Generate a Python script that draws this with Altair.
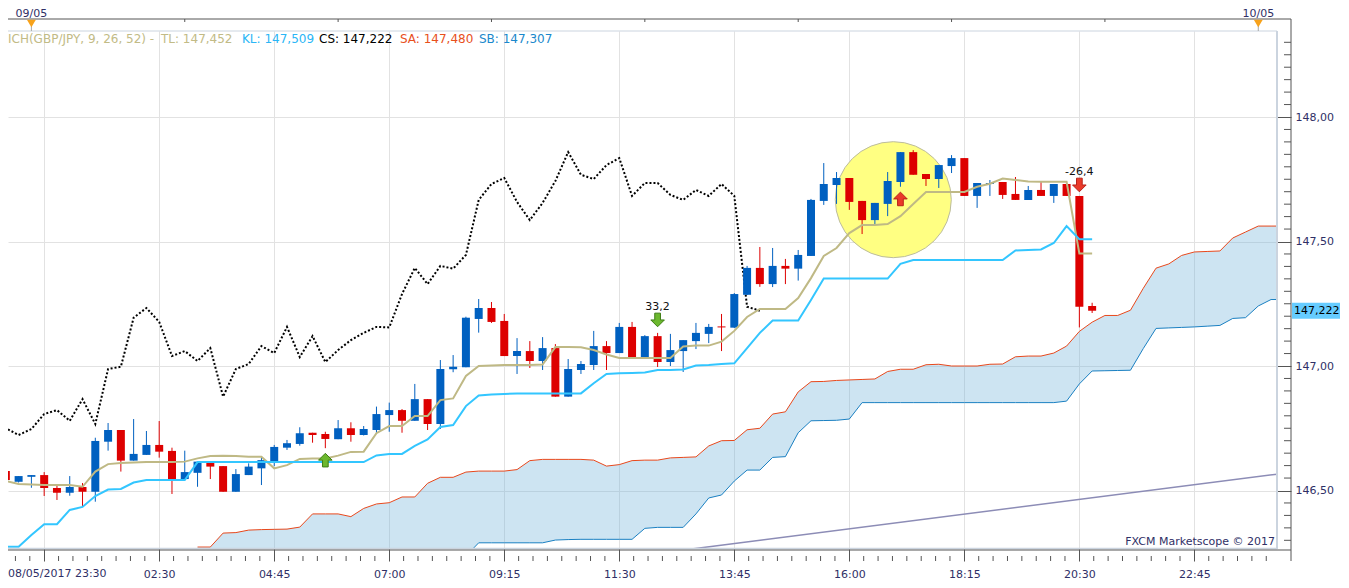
import altair as alt
import pandas as pd

# ---------------- data (15-minute bars, index 0 = 09/05 00:00) ----------------
bar_index = list(range(-2, 84))

open_ = [146.578, 146.535, 146.555, 146.562, 146.510, 146.491, 146.514, 146.495, 146.696, 146.743,
         146.620, 146.643, 146.683, 146.659, 146.546, 146.571, 146.612, 146.598, 146.495, 146.562,
         146.589, 146.618, 146.672, 146.687, 146.732, 146.727, 146.706, 146.750, 146.723, 146.743,
         146.803, 146.823, 146.780, 146.867, 146.767, 146.987, 146.995, 147.189, 147.233, 147.181,
         147.040, 147.060, 147.020, 147.072, 146.877, 146.984, 147.004, 147.080, 147.052, 147.157,
         147.036, 147.120, 147.016, 147.060, 147.100, 147.129, 147.159, 147.154, 147.286, 147.394,
         147.329, 147.402, 147.391, 147.442, 147.663, 147.727, 147.755, 147.663, 147.586, 147.651,
         147.739, 147.859, 147.771, 147.751, 147.803, 147.835, 147.683, 147.731, 147.739, 147.691,
         147.667, 147.707, 147.683, 147.731, 147.683, 147.241]
high = [146.578, 146.558, 146.562, 146.574, 146.522, 146.558, 146.530, 146.712, 146.771, 146.743,
        146.787, 146.739, 146.779, 146.672, 146.660, 146.616, 146.612, 146.598, 146.586, 146.609,
        146.636, 146.683, 146.703, 146.754, 146.732, 146.736, 146.783, 146.774, 146.759, 146.837,
        146.853, 146.827, 146.928, 146.867, 147.024, 147.044, 147.198, 147.269, 147.257, 147.209,
        147.112, 147.100, 147.116, 147.088, 147.028, 147.020, 147.141, 147.100, 147.173, 147.177,
        147.124, 147.133, 147.129, 147.104, 147.173, 147.169, 147.209, 147.293, 147.402, 147.478,
        147.474, 147.430, 147.466, 147.671, 147.815, 147.779, 147.755, 147.663, 147.655, 147.779,
        147.859, 147.867, 147.771, 147.807, 147.847, 147.835, 147.735, 147.747, 147.739, 147.759,
        147.723, 147.739, 147.731, 147.731, 147.683, 147.254]
low = [146.462, 146.532, 146.511, 146.478, 146.462, 146.479, 146.438, 146.455, 146.660, 146.576,
       146.620, 146.643, 146.632, 146.486, 146.546, 146.515, 146.546, 146.495, 146.495, 146.562,
       146.522, 146.598, 146.663, 146.680, 146.692, 146.670, 146.706, 146.696, 146.721, 146.730,
       146.736, 146.732, 146.780, 146.743, 146.747, 146.975, 146.995, 147.134, 147.173, 147.040,
       146.968, 146.992, 146.984, 146.877, 146.877, 146.968, 146.984, 146.984, 147.052, 147.032,
       147.032, 146.996, 147.000, 146.976, 147.068, 147.092, 147.060, 147.153, 147.285, 147.318,
       147.317, 147.329, 147.343, 147.442, 147.647, 147.651, 147.627, 147.530, 147.570, 147.602,
       147.720, 147.768, 147.723, 147.715, 147.775, 147.683, 147.635, 147.683, 147.671, 147.667,
       147.667, 147.683, 147.655, 147.683, 147.155, 147.213]
close = [146.542, 146.558, 146.562, 146.510, 146.491, 146.514, 146.495, 146.699, 146.743, 146.620,
         146.647, 146.683, 146.656, 146.546, 146.574, 146.616, 146.596, 146.495, 146.566, 146.596,
         146.622, 146.675, 146.690, 146.730, 146.723, 146.707, 146.750, 146.723, 146.747, 146.807,
         146.823, 146.780, 146.867, 146.767, 146.988, 146.997, 147.194, 147.233, 147.177, 147.040,
         147.060, 147.020, 147.072, 146.877, 146.988, 147.008, 147.080, 147.052, 147.157, 147.036,
         147.120, 147.016, 147.064, 147.104, 147.133, 147.157, 147.155, 147.289, 147.394, 147.329,
         147.402, 147.391, 147.446, 147.667, 147.731, 147.755, 147.659, 147.586, 147.655, 147.743,
         147.859, 147.768, 147.751, 147.807, 147.835, 147.683, 147.735, 147.735, 147.687, 147.667,
         147.707, 147.683, 147.731, 147.683, 147.238, 147.222]

tenkan = [146.538, 146.526, 146.524, 146.522, 146.522, 146.522, 146.515, 146.576, 146.606, 146.610,
          146.612, 146.614, 146.614, 146.614, 146.616, 146.629, 146.639, 146.640, 146.639, 146.636,
          146.636, 146.589, 146.602, 146.627, 146.629, 146.629, 146.640, 146.655, 146.656, 146.730,
          146.759, 146.759, 146.799, 146.799, 146.863, 146.870, 146.960, 147.000, 147.002, 147.004,
          147.004, 147.004, 147.006, 147.076, 147.076, 147.075, 147.064, 147.046, 147.032, 147.032,
          147.032, 147.032, 147.032, 147.078, 147.082, 147.082, 147.098, 147.141, 147.197, 147.229,
          147.229, 147.229, 147.273, 147.353, 147.442, 147.474, 147.534, 147.566, 147.566, 147.570,
          147.602, 147.651, 147.699, 147.699, 147.699, 147.699, 147.720, 147.732, 147.753, 147.747,
          147.741, 147.740, 147.740, 147.740, 147.452, 147.452]
kijun = [146.274, 146.274, 146.321, 146.365, 146.365, 146.422, 146.434, 146.478, 146.504, 146.506,
         146.532, 146.542, 146.542, 146.542, 146.542, 146.614, 146.614, 146.614, 146.614, 146.614,
         146.614, 146.614, 146.614, 146.614, 146.614, 146.614, 146.614, 146.614, 146.614, 146.641,
         146.647, 146.647, 146.679, 146.705, 146.755, 146.763, 146.839, 146.882, 146.886, 146.888,
         146.890, 146.890, 146.890, 146.890, 146.890, 146.890, 146.931, 146.968, 146.971, 146.972,
         146.974, 146.984, 146.984, 146.986, 147.002, 147.004, 147.008, 147.011, 147.072, 147.133,
         147.183, 147.183, 147.183, 147.265, 147.351, 147.351, 147.351, 147.351, 147.351, 147.351,
         147.410, 147.426, 147.426, 147.426, 147.426, 147.426, 147.426, 147.426, 147.426, 147.464,
         147.466, 147.468, 147.494, 147.562, 147.509, 147.509]

cloud_index = list(range(13, 99))
senkou_a = [146.273, 146.273, 146.329, 146.331, 146.341, 146.343, 146.344, 146.345, 146.353, 146.406,
            146.406, 146.406, 146.395, 146.428, 146.446, 146.451, 146.474, 146.474, 146.529, 146.553,
            146.553, 146.574, 146.578, 146.578, 146.578, 146.584, 146.620, 146.625, 146.625, 146.625,
            146.625, 146.622, 146.598, 146.604, 146.620, 146.622, 146.622, 146.631, 146.633, 146.635,
            146.679, 146.700, 146.701, 146.744, 146.750, 146.807, 146.816, 146.896, 146.937, 146.938,
            146.942, 146.944, 146.946, 146.948, 146.978, 146.987, 146.987, 147.005, 147.007, 147.000,
            147.000, 147.000, 147.007, 147.008, 147.037, 147.040, 147.040, 147.052, 147.080, 147.139,
            147.176, 147.203, 147.203, 147.224, 147.312, 147.393, 147.410, 147.444, 147.458, 147.460,
            147.462, 147.514, 147.538, 147.562, 147.562, 147.562]
senkou_b = [146.200, 146.200, 146.200, 146.200, 146.200, 146.200, 146.200, 146.200, 146.200, 146.200,
            146.200, 146.200, 146.200, 146.200, 146.200, 146.200, 146.200, 146.200, 146.200, 146.200,
            146.200, 146.237, 146.290, 146.290, 146.290, 146.290, 146.290, 146.290, 146.301, 146.303,
            146.304, 146.304, 146.304, 146.304, 146.304, 146.348, 146.352, 146.352, 146.352, 146.406,
            146.470, 146.482, 146.538, 146.582, 146.582, 146.633, 146.636, 146.732, 146.780, 146.781,
            146.782, 146.787, 146.853, 146.853, 146.853, 146.853, 146.853, 146.853, 146.853, 146.853,
            146.853, 146.853, 146.853, 146.853, 146.853, 146.853, 146.853, 146.853, 146.859, 146.928,
            146.980, 146.981, 146.982, 146.983, 147.070, 147.151, 147.153, 147.155, 147.157, 147.160,
            147.163, 147.191, 147.194, 147.241, 147.267, 147.267]

trend_i = [51.5, 97.5]
trend_p = [146.264, 146.566]

highlight_i = [67.44]
highlight_p = [147.668]

sig_i = [23, 49, 68, 82]
sig_p = [146.622, 147.185, 147.671, 147.727]
sig_dir = ["up", "down", "up", "down"]
sig_kind = ["buy", "buy", "sell", "sell"]
sig_text = ["", "33,2", "", "-26,4"]

major_x = [1, 10, 19, 28, 37, 46, 55, 64, 73, 82, 91]
time_labels = ["", "02:30", "04:45", "07:00", "09:15", "11:30", "13:45", "16:00", "18:15", "20:30", "22:45"]
first_label = "08/05/2017 23:30"
major_y = [146.5, 147.0, 147.5, 148.0]
top_ticks = [12, 24, 36, 48, 60, 72, 84]
day_i = [0, 96]
day_label = ["09/05", "10/05"]

# ---------------- frames ----------------
candles = pd.DataFrame({"i": bar_index, "open": open_, "high": high, "low": low, "close": close})
candles["dir"] = ["up" if c >= o else "down" for o, c in zip(open_, close)]
ind = pd.DataFrame({"i": bar_index, "tenkan": tenkan, "kijun": kijun})
chikou = pd.DataFrame({"i": [b - 26 for b in bar_index], "cs": close})
cloud = pd.DataFrame({"i": cloud_index, "sa": senkou_a, "sb": senkou_b})
trend = pd.DataFrame({"i": trend_i, "p": trend_p})
hl = pd.DataFrame({"i": highlight_i, "p": highlight_p})
sig = pd.DataFrame({"i": sig_i, "p": sig_p, "dir": sig_dir, "kind": sig_kind, "label": sig_text})
minor_x = pd.DataFrame({"i": [1 + k * 1.125 for k in range(-2, 86) if k % 8 != 0]})
minor_y = pd.DataFrame({"p": [round(146.30 + 0.05 * k, 2) for k in range(0, 41) if k % 10 != 4]})
toptk = pd.DataFrame({"i": top_ticks})
days = pd.DataFrame({"i": day_i, "label": day_label})
last = pd.DataFrame({"p": [close[-1]], "label": [f"{close[-1]:.3f}".replace(".", ",")]})
one = pd.DataFrame({"a": [0]})

W, H = 1269, 518
xs = alt.Scale(domain=[-1.831, 97.465], nice=False, zero=False)
ys = alt.Scale(domain=[146.2651, 148.3454], nice=False, zero=False)
LBL = "#2f2f66"
FONT = "DejaVu Sans"

label_expr_x = ("[" + ",".join(f"'{t}'" for t in time_labels) + "]"
                + f"[indexof({major_x}, datum.value)]")

x_axis = alt.Axis(values=major_x, labelExpr=label_expr_x, grid=True, gridColor="#e2e2e2",
                  domain=False, tickColor="#555555", tickSize=12, labelPadding=7,
                  labelColor=LBL, labelFont=FONT, labelFontSize=11, title=None,
                  labelOverlap=False, labelBound=False, labelFlush=False)
y_axis = alt.Axis(orient="right", values=major_y,
                  labelExpr="replace(format(datum.value, '.2f'), '.', ',')",
                  grid=True, gridColor="#e2e2e2", domain=False, tickColor="#555555",
                  tickSize=14, labelPadding=4, labelColor=LBL, labelFont=FONT,
                  labelFontSize=11, title=None, labelOverlap=False)


def X(f="i"):
    return alt.X(f"{f}:Q", scale=xs, axis=x_axis)


def Y(f):
    return alt.Y(f"{f}:Q", scale=ys, axis=y_axis)


UP = "M0,-1L1,0L0.42,0L0.42,1L-0.42,1L-0.42,0L-1,0Z"
DOWN = "M0,1L1,0L0.42,0L0.42,-1L-0.42,-1L-0.42,0L-1,0Z"

layers = []

# cloud
layers.append(alt.Chart(cloud).mark_area(clip=True, color="#70b2da", opacity=0.35).encode(
    x=X(), y=Y("sa"), y2=alt.Y2("sb:Q")))
layers.append(alt.Chart(cloud).mark_line(clip=True, color="#e8481c", strokeWidth=1).encode(
    x=X(), y=Y("sa")))
layers.append(alt.Chart(cloud).mark_line(clip=True, color="#1a80c2", strokeWidth=1).encode(
    x=X(), y=Y("sb")))
# trend line
layers.append(alt.Chart(trend).mark_line(clip=True, color="#8c8cb6", strokeWidth=1.5).encode(
    x=X(), y=Y("p")))
# highlight circle (Vega symbol size = square of diameter)
layers.append(alt.Chart(hl).mark_point(clip=True, filled=True, shape="circle", size=13456,
                                       fill="#ffff82", stroke="#bcbc9e", strokeWidth=1,
                                       opacity=1).encode(x=X(), y=Y("p")))
# chikou span
layers.append(alt.Chart(chikou).mark_line(clip=True, color="#000000", strokeWidth=2,
                                          strokeDash=[2, 2]).encode(x=X(), y=Y("cs")))
# wicks
cscale = alt.Scale(domain=["up", "down"], range=["#0060c0", "#dd0000"])
layers.append(alt.Chart(candles).mark_rule(clip=True, strokeWidth=1).encode(
    x=X(), y=Y("low"), y2=alt.Y2("high:Q"),
    color=alt.Color("dir:N", scale=cscale, legend=None)))
# bodies
layers.append(alt.Chart(candles).mark_rect(clip=True, xOffset=-4, x2Offset=4).encode(
    x=X(), x2=alt.X2("i:Q"), y=Y("open"), y2=alt.Y2("close:Q"),
    color=alt.Color("dir:N", scale=cscale, legend=None)))
# tenkan / kijun
layers.append(alt.Chart(ind).mark_line(clip=True, color="#bfb985", strokeWidth=2).encode(
    x=X(), y=Y("tenkan")))
layers.append(alt.Chart(ind).mark_line(clip=True, color="#33c6ff", strokeWidth=2).encode(
    x=X(), y=Y("kijun")))
# signal arrows
layers.append(alt.Chart(sig).mark_point(filled=True, size=185, strokeWidth=1, opacity=1).encode(
    x=X(), y=Y("p"),
    shape=alt.Shape("dir:N", scale=alt.Scale(domain=["up", "down"], range=[UP, DOWN]), legend=None),
    fill=alt.Fill("kind:N", scale=alt.Scale(domain=["buy", "sell"], range=["#6cb82e", "#ea3a2a"]), legend=None),
    stroke=alt.Stroke("kind:N", scale=alt.Scale(domain=["buy", "sell"], range=["#3e7d16", "#b8231a"]), legend=None)))
layers.append(alt.Chart(sig).mark_text(dy=-13, fontSize=11, font=FONT, color="#111111").encode(
    x=X(), y=Y("p"), text="label:N"))

# inner plot border
border = "#cbd4df"
layers.append(alt.Chart(one).mark_rule(color=border, strokeWidth=1).encode(
    x=alt.value(0), x2=alt.value(W), y=alt.value(0)))
layers.append(alt.Chart(one).mark_rule(color=border, strokeWidth=2).encode(
    x=alt.value(W), y=alt.value(0), y2=alt.value(H)))
layers.append(alt.Chart(one).mark_rule(color=border, strokeWidth=1.5).encode(
    x=alt.value(0), x2=alt.value(W), y=alt.value(H - 0.5)))
# outer frame
frame = "#555555"
layers.append(alt.Chart(one).mark_rule(color=frame, strokeWidth=1).encode(
    x=alt.value(0), x2=alt.value(W + 14), y=alt.value(-12)))
layers.append(alt.Chart(one).mark_rule(color=frame, strokeWidth=1).encode(
    x=alt.value(W + 14), y=alt.value(-12), y2=alt.value(H + 12)))
layers.append(alt.Chart(one).mark_rule(color=frame, strokeWidth=1).encode(
    x=alt.value(0), x2=alt.value(W + 14), y=alt.value(H + 1)))
# minor ticks
layers.append(alt.Chart(minor_x).mark_rule(color=frame, strokeWidth=1).encode(
    x=X(), y=alt.value(H + 7), y2=alt.value(H + 12)))
layers.append(alt.Chart(minor_y).mark_rule(color=frame, strokeWidth=1).encode(
    y=Y("p"), x=alt.value(W + 7), x2=alt.value(W + 14)))
layers.append(alt.Chart(toptk).mark_rule(color=frame, strokeWidth=1).encode(
    x=X(), y=alt.value(-12), y2=alt.value(-9)))
# day markers
layers.append(alt.Chart(days).mark_rule(color="#a8a8a8", strokeWidth=1).encode(
    x=X(), y=alt.value(-5), y2=alt.value(0)))
layers.append(alt.Chart(days).mark_point(filled=True, shape="triangle-down", size=80,
                                         color="#f7a21b", opacity=1).encode(
    x=X(), y=alt.value(-7.5)))
layers.append(alt.Chart(days).mark_text(fontSize=11, font=FONT, color=LBL, baseline="alphabetic").encode(
    x=X(), y=alt.value(-14.5), text="label:N"))
# first bottom label
layers.append(alt.Chart(one).mark_text(fontSize=11, font=FONT, color=LBL, align="left",
                                       baseline="top", text=first_label).encode(
    x=alt.value(0), y=alt.value(H + 19)))
# current price box
layers.append(alt.Chart(last).mark_rect(color="#66ccff", yOffset=-8, y2Offset=8).encode(
    x=alt.value(W + 15), x2=alt.value(W + 63), y=Y("p"), y2=alt.Y2("p:Q")))
layers.append(alt.Chart(last).mark_text(fontSize=11, font=FONT, color="#000000", align="left").encode(
    x=alt.value(W + 17), y=Y("p"), text="label:N"))
# indicator legend text
legend_parts = [
    ("ICH(GBP/JPY, 9, 26, 52) -", "#c2bb86", 0),
    ("TL: 147,452", "#c2bb86", 153),
    ("KL: 147,509", "#2ab6f6", 234),
    ("CS: 147,222", "#000000", 311),
    ("SA: 147,480", "#e8501c", 392),
    ("SB: 147,307", "#1a88cc", 471),
]
for txt, col, px in legend_parts:
    layers.append(alt.Chart(one).mark_text(fontSize=12, font=FONT, color=col, align="left",
                                           baseline="middle", text=txt).encode(
        x=alt.value(px), y=alt.value(8)))
# watermark
layers.append(alt.Chart(one).mark_text(fontSize=11, font=FONT, color=LBL, align="right",
                                       baseline="middle", text="FXCM Marketscope \u00a9 2017").encode(
    x=alt.value(W - 2), y=alt.value(H - 7)))

chart = alt.layer(*layers).properties(
    width=W, height=H,
    autosize=alt.AutoSizeParams(type="none"),
    padding={"left": 0, "top": 23, "right": 64, "bottom": 31},
    background="white",
).configure_view(strokeWidth=0)

chart.save("out.html", embed_options={"renderer": "svg", "actions": False})
